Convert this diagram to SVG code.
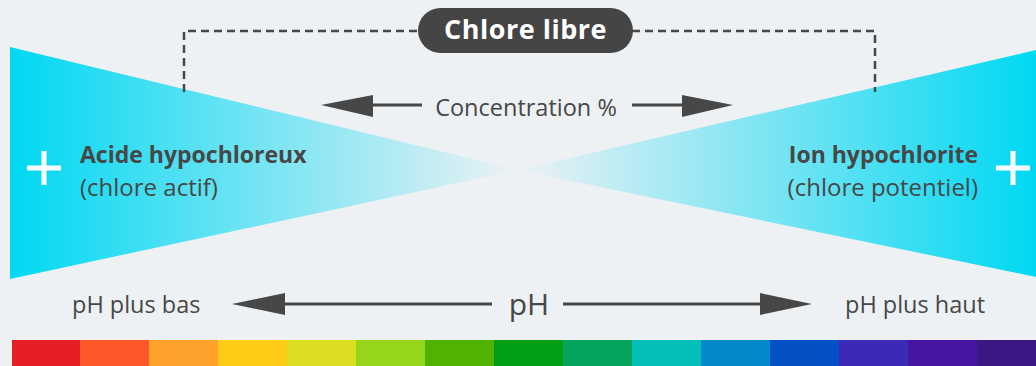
<svg xmlns="http://www.w3.org/2000/svg" width="1036" height="366" viewBox="0 0 1036 366">
  <defs>
    <linearGradient id="gl" x1="10" y1="0" x2="518" y2="0" gradientUnits="userSpaceOnUse">
      <stop offset="0" stop-color="#00D8F2" stop-opacity="1"/>
      <stop offset="1" stop-color="#00D8F2" stop-opacity="0"/>
    </linearGradient>
    <linearGradient id="gr" x1="1036" y1="0" x2="518" y2="0" gradientUnits="userSpaceOnUse">
      <stop offset="0" stop-color="#00D8F2" stop-opacity="1"/>
      <stop offset="1" stop-color="#00D8F2" stop-opacity="0"/>
    </linearGradient>
    <style>
      .t { font-family: "Open Sans", "Liberation Sans", sans-serif; fill: #474747; }
      .b { font-weight: 700; }
      .ln { stroke: #474747; stroke-width: 3; fill: none; }
      .hd { fill: #474747; }
      .dash { stroke: #474747; stroke-width: 2.5; stroke-dasharray: 8 5; fill: none; }
      .plus { stroke: #ffffff; stroke-width: 5; }
    </style>
  </defs>
  <rect width="1036" height="366" fill="#EDF1F4"/>

  <g id="left-wedge">
    <polygon points="10,47 518,170 10,279" fill="url(#gl)"/>
    <line class="plus" x1="27" y1="168" x2="61" y2="168"/>
    <line class="plus" x1="44" y1="151" x2="44" y2="185"/>
    <text class="t b" x="80" y="163" font-size="23">Acide hypochloreux</text>
    <text class="t" x="80" y="196" font-size="24">(chlore actif)</text>
  </g>

  <g id="right-wedge">
    <polygon points="1036,50 518,170 1036,277" fill="url(#gr)"/>
    <line class="plus" x1="996" y1="168" x2="1030" y2="168"/>
    <line class="plus" x1="1013" y1="151" x2="1013" y2="185"/>
    <text class="t b" x="978" y="163" font-size="23" text-anchor="end">Ion hypochlorite</text>
    <text class="t" x="978" y="196" font-size="24" text-anchor="end">(chlore potentiel)</text>
  </g>

  <g id="connectors">
    <polyline class="dash" points="184,92 184,31 420,31"/>
    <polyline class="dash" points="632,31 875,31 875,92"/>
    <line class="ln" x1="370" y1="105" x2="422" y2="105"/>
    <polygon class="hd" points="321,105 373,95 373,117"/>
    <line class="ln" x1="632" y1="105" x2="684" y2="105"/>
    <polygon class="hd" points="733,105 682,95 682,117"/>
    <line class="ln" x1="283" y1="304" x2="492" y2="304"/>
    <polygon class="hd" points="232,304 285,293 285,315"/>
    <line class="ln" x1="563" y1="304" x2="762" y2="304"/>
    <polygon class="hd" points="812,304 760,293 760,315"/>
  </g>

  <g id="chlore-libre">
    <rect x="418" y="8" width="215" height="45" rx="22.5" fill="#454545"/>
    <text class="t b" x="525.5" y="39" font-size="27" letter-spacing="0.5" text-anchor="middle" style="fill:#ffffff">Chlore libre</text>
  </g>

  <g id="concentration">
    <text class="t" x="526" y="116" font-size="23.5" text-anchor="middle">Concentration %</text>
  </g>

  <g id="ph-labels">
    <text class="t" x="72" y="313" font-size="23.5">pH plus bas</text>
    <text class="t" x="529" y="315" font-size="30" text-anchor="middle">pH</text>
    <text class="t" x="845" y="313" font-size="23.5">pH plus haut</text>
  </g>

  <g id="ph-scale">
    <rect x="12" y="340" width="69" height="26" fill="#E61E25"/>
    <rect x="80" y="340" width="70" height="26" fill="#FE5628"/>
    <rect x="149" y="340" width="70" height="26" fill="#FFA22B"/>
    <rect x="218" y="340" width="70" height="26" fill="#FECB17"/>
    <rect x="287" y="340" width="70" height="26" fill="#DCDE22"/>
    <rect x="356" y="340" width="70" height="26" fill="#95D51C"/>
    <rect x="425" y="340" width="70" height="26" fill="#50B302"/>
    <rect x="494" y="340" width="70" height="26" fill="#029E13"/>
    <rect x="563" y="340" width="70" height="26" fill="#04A45C"/>
    <rect x="632" y="340" width="70" height="26" fill="#04BFB8"/>
    <rect x="701" y="340" width="70" height="26" fill="#0489CA"/>
    <rect x="770" y="340" width="70" height="26" fill="#0450C4"/>
    <rect x="839" y="340" width="70" height="26" fill="#3A2AB7"/>
    <rect x="908" y="340" width="70" height="26" fill="#4615A2"/>
    <rect x="977" y="340" width="59" height="26" fill="#3B1784"/>
  </g>
</svg>
